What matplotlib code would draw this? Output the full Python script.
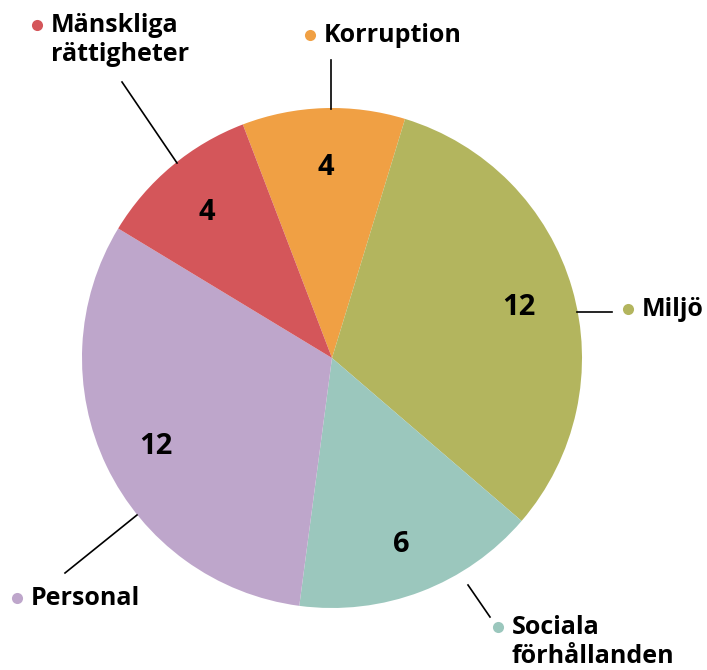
import matplotlib.pyplot as plt

# data (clockwise from the top)
categories = ['Korruption', 'Miljö', 'Sociala\nförhållanden', 'Personal', 'Mänskliga\nrättigheter']
values = [4, 12, 6, 12, 4]
colors = ['#F0A044', '#B3B55E', '#9BC7BD', '#BEA6CB', '#D4565A']

W, H = 707, 670
fig = plt.figure(figsize=(W / 100, H / 100), dpi=100)
ax = fig.add_axes([0, 0, 1, 1])

font = ['Open Sans', 'DejaVu Sans']

cx, cy, r = 332, H - 358, 250
start = 90 + 20.9
wedges, texts, nums = ax.pie(values, colors=colors, startangle=start, counterclock=False,
                             center=(cx, cy), radius=r, pctdistance=0.78,
                             autopct=lambda p: f'{p * sum(values) / 100:.0f}',
                             wedgeprops=dict(linewidth=0))
for t in nums:
    t.set_fontsize(21)
    t.set_fontweight('bold')
    t.set_family(font)
    t.set_y(t.get_position()[1] - 4)

# pie() resets the limits, so set the pixel frame afterwards
ax.set_xlim(0, W)
ax.set_ylim(0, H)
ax.set_aspect('equal')
ax.axis('off')

# outside labels: (bullet x, bullet y, leader line start, leader line end) in pixels
label_layout = [
    (310, 35, (331, 109), (331, 60)),
    (628, 309, (577, 312), (612, 312)),
    (498, 627, (468, 585), (490, 617)),
    (17, 598, (137, 515), (65, 573)),
    (37, 25, (177, 163), (122, 82)),
]

for name, col, (bx, by, p0, p1) in zip(categories, colors, label_layout):
    ax.plot([p0[0], p1[0]], [H - p0[1], H - p1[1]], color='black', lw=1.2)
    ax.plot(bx, H - by, 'o', color=col, ms=8, mec='none')
    ax.text(bx + 14, H - by + 12, name, fontsize=18, fontweight='bold', family=font,
            va='top', ha='left', linespacing=1.22)

fig.savefig('out.png', dpi=100)
